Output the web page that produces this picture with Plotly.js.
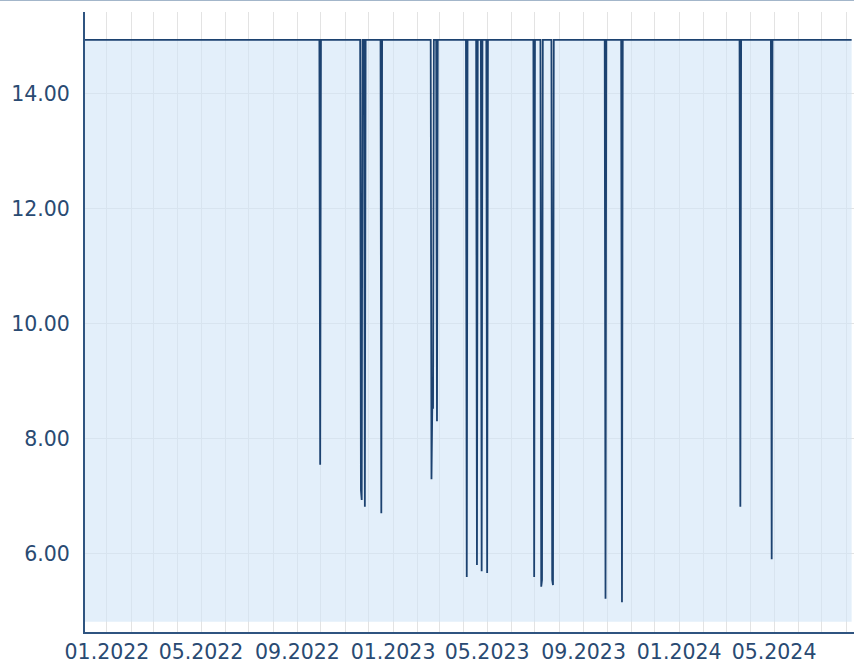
<!DOCTYPE html>
<html>
<head>
<meta charset="utf-8">
<script src="https://cdn.plot.ly/plotly-3.0.1.min.js"></script>
<style>
  html, body { margin: 0; padding: 0; background: #ffffff; }
  #topline { position: absolute; left: 0; top: 0; width: 854px; height: 1px; background: #a3b6ca; z-index: 5; }
  #chart { position: absolute; left: 0; top: 0; width: 854px; height: 665px; }
</style>
</head>
<body>
<div id="topline"></div>
<div id="chart"></div>
<script>
// Series: dates and values
const dates = [
  '2021-12-04','2022-09-29','2022-09-30','2022-10-01',
  '2022-11-20','2022-11-21','2022-11-22','2022-11-23',
  '2022-11-25','2022-11-26','2022-11-27',
  '2022-12-16','2022-12-17','2022-12-18',
  '2023-02-18','2023-02-19','2023-02-20','2023-02-21','2023-02-22',
  '2023-02-25','2023-02-26','2023-02-27',
  '2023-04-04','2023-04-05','2023-04-06',
  '2023-04-17','2023-04-18','2023-04-19',
  '2023-04-23','2023-04-24','2023-04-25',
  '2023-04-30','2023-05-01','2023-05-02',
  '2023-06-29','2023-06-30','2023-07-01',
  '2023-07-08','2023-07-09','2023-07-10','2023-07-11',
  '2023-07-22','2023-07-23','2023-07-24','2023-07-25',
  '2023-09-28','2023-09-29','2023-09-30',
  '2023-10-19','2023-10-20','2023-10-21',
  '2024-03-18','2024-03-19','2024-03-20',
  '2024-04-27','2024-04-28','2024-04-29',
  '2024-08-08'
];
const values = [
  14.94, 14.94, 7.55, 14.94,
  14.94, 7.11, 6.94, 14.94,
  14.94, 6.82, 14.94,
  14.94, 6.71, 14.94,
  14.94, 7.30, 8.54, 8.54, 14.94,
  14.94, 8.31, 14.94,
  14.94, 5.60, 14.94,
  14.94, 5.81, 14.94,
  14.94, 5.70, 14.94,
  14.94, 5.67, 14.94,
  14.94, 5.60, 14.94,
  14.94, 5.43, 5.55, 14.94,
  14.94, 5.55, 5.46, 14.94,
  14.94, 5.22, 14.94,
  14.94, 5.16, 14.94,
  14.94, 6.82, 14.94,
  14.94, 5.91, 14.94,
  14.94
];
const fillBaseline = 4.82;
const yTickVals = [6, 8, 10, 12, 14];
const xRange = ['2021-12-04', '2024-08-11'];
const yRange = [4.643, 15.426];

const lineColor = '#1c4270';
const textColor = '#294a72';
const axisColor = '#2f5480';
const gridColor = '#e3e3e3';

const baseTrace = {
  x: [dates[0], dates[dates.length - 1]],
  y: [fillBaseline, fillBaseline],
  type: 'scatter', mode: 'lines',
  line: { width: 0, color: 'rgba(0,0,0,0)' },
  hoverinfo: 'skip', showlegend: false
};
const mainTrace = {
  x: dates, y: values,
  type: 'scatter', mode: 'lines',
  line: { color: lineColor, width: 1.8 },
  fill: 'tonexty',
  fillcolor: 'rgba(208,228,247,0.6)',
  showlegend: false
};

const font = { family: 'DejaVu Sans, Verdana, sans-serif', size: 20.5, color: textColor };

const layout = {
  width: 854, height: 665,
  margin: { l: 85, r: 0, t: 12, b: 33, pad: 0 },
  paper_bgcolor: '#ffffff', plot_bgcolor: '#ffffff',
  showlegend: false,
  xaxis: {
    type: 'date', range: xRange,
    tick0: '2022-01-01', dtick: 'M4', tickformat: '%m.%Y',
    ticks: '', tickfont: font,
    showgrid: true, gridcolor: gridColor, gridwidth: 1,
    minor: { dtick: 'M1', tick0: '2022-01-01', showgrid: true, gridcolor: gridColor, gridwidth: 1, ticks: '' },
    showline: true, linecolor: axisColor, linewidth: 2,
    zeroline: false, layer: 'below traces', fixedrange: true
  },
  yaxis: {
    range: yRange, tickvals: yTickVals, tickformat: '.2f',
    ticks: '', tickfont: font, ticklabelstandoff: 9,
    showgrid: true, gridcolor: gridColor, gridwidth: 1,
    showline: true, linecolor: axisColor, linewidth: 2,
    zeroline: false, layer: 'below traces', fixedrange: true
  }
};

Plotly.newPlot('chart', [baseTrace, mainTrace], layout, { staticPlot: true, displayModeBar: false });
</script>
</body>
</html>
